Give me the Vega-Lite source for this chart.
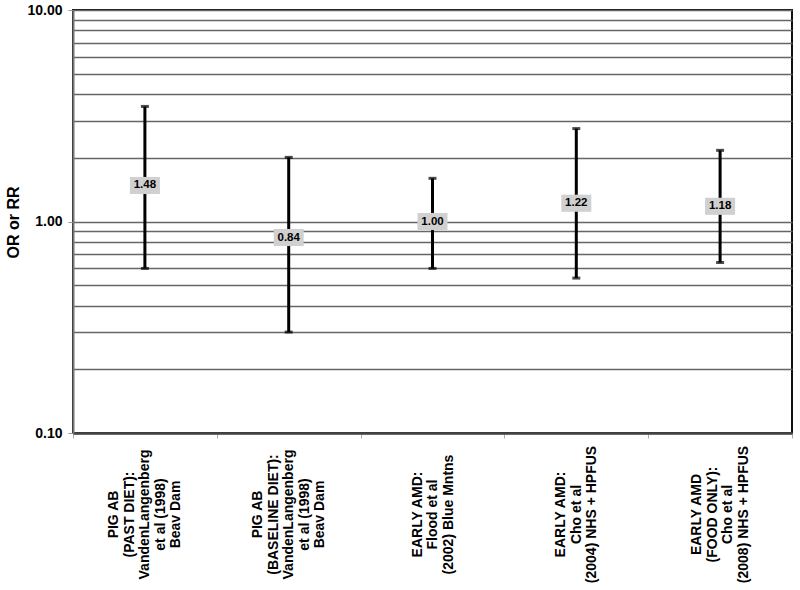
{
  "$schema": "https://vega.github.io/schema/vega-lite/v6.json",
  "autosize": "none",
  "width": 719,
  "height": 423,
  "padding": {"left": 73, "top": 10, "right": 8, "bottom": 157},
  "background": "white",
  "config": {
    "font": "Liberation Sans",
    "view": {"stroke": "#111", "strokeWidth": 2}
  },
  "data": {
    "values": [
      {"label": "PIG AB|(PAST DIET):|VandenLangenberg|et al (1998)|Beav Dam", "est": 1.48, "lo": 0.60, "hi": 3.50},
      {"label": "PIG AB|(BASELINE DIET):|VandenLangenberg|et al (1998)|Beav Dam", "est": 0.84, "lo": 0.30, "hi": 2.01},
      {"label": "EARLY AMD:|Flood et al|(2002) Blue Mntns", "est": 1.00, "lo": 0.60, "hi": 1.60},
      {"label": "EARLY AMD:|Cho et al|(2004) NHS + HPFUS", "est": 1.22, "lo": 0.54, "hi": 2.75},
      {"label": "EARLY AMD|(FOOD ONLY):|Cho et al|(2008) NHS + HPFUS", "est": 1.18, "lo": 0.64, "hi": 2.17}
    ]
  },
  "encoding": {
    "x": {
      "field": "label",
      "type": "nominal",
      "sort": null,
      "scale": {"paddingInner": 0, "paddingOuter": 0},
      "axis": {
        "title": null,
        "labelExpr": "split(datum.label, '|')",
        "labelAngle": 270,
        "labelAlign": "center",
        "labelBaseline": "middle",
        "labelLineHeight": 15.5,
        "labelFont": "Liberation Sans",
        "labelFontSize": 14,
        "labelFontWeight": "bold",
        "labelColor": "#000",
        "labelPadding": 76,
        "labelOverlap": false,
        "labelBound": false,
        "labelOffset": {
          "condition": [
            {"test": "length(split(datum.value, '|')) == 5", "value": -31},
            {"test": "length(split(datum.value, '|')) == 3", "value": -15.5}
          ],
          "value": -23.25
        },
        "tickBand": "extent",
        "tickColor": "#aaa",
        "tickSize": 5,
        "tickWidth": 1,
        "domainColor": "#444",
        "domainWidth": 2.5,
        "grid": false
      }
    }
  },
  "layer": [
    {
      "mark": {"type": "rule", "color": "#000", "strokeWidth": 3},
      "encoding": {
        "y": {
          "field": "lo",
          "type": "quantitative",
          "scale": {"type": "log", "domain": [0.1, 10], "nice": false},
          "axis": {
            "title": "OR or RR",
            "titleFont": "Liberation Sans",
            "titleFontSize": 16,
            "titleFontWeight": "bold",
            "titleColor": "#000",
            "titleAngle": 270,
            "titleX": -60,
            "titleY": 212,
            "titleBaseline": "middle",
            "titleAlign": "center",
            "values": [0.1, 0.2, 0.3, 0.4, 0.5, 0.6, 0.7, 0.8, 0.9, 1, 2, 3, 4, 5, 6, 7, 8, 9, 10],
            "labelExpr": "(datum.value == 0.1 || datum.value == 1 || datum.value == 10) ? format(datum.value, '.2f') : ''",
            "labelFont": "Liberation Sans",
            "labelFontSize": 14,
            "labelFontWeight": "bold",
            "labelColor": "#000",
            "labelPadding": 6,
            "labelOverlap": false,
            "labelBound": false,
            "tickSize": 5,
            "tickColor": "#999",
            "tickOpacity": {"condition": {"test": "datum.value == 0.1 || datum.value == 1 || datum.value == 10", "value": 1}, "value": 0},
            "grid": true,
            "gridColor": "#666",
            "gridWidth": 1.3,
            "domainColor": "#777",
            "domainWidth": 2
          }
        },
        "y2": {"field": "hi"}
      }
    },
    {
      "mark": {"type": "tick", "color": "#000", "size": 8, "thickness": 3, "orient": "horizontal"},
      "encoding": {"y": {"field": "lo", "type": "quantitative"}}
    },
    {
      "mark": {"type": "tick", "color": "#000", "size": 8, "thickness": 3, "orient": "horizontal"},
      "encoding": {"y": {"field": "hi", "type": "quantitative"}}
    },
    {
      "mark": {"type": "point", "shape": "M-1,-0.57L1,-0.57L1,0.57L-1,0.57Z", "size": 900, "filled": true, "fill": "#d0d0d0", "opacity": 1, "strokeWidth": 0},
      "encoding": {"y": {"field": "est", "type": "quantitative"}}
    },
    {
      "mark": {"type": "text", "font": "Liberation Sans", "fontSize": 11.5, "fontWeight": "bold", "color": "#000", "align": "center", "baseline": "middle"},
      "encoding": {
        "y": {"field": "est", "type": "quantitative"},
        "text": {"field": "est", "type": "quantitative", "format": ".2f"}
      }
    }
  ]
}
